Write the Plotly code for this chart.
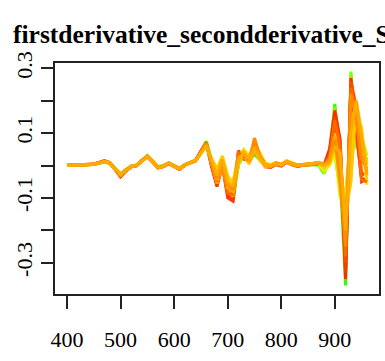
import plotly.graph_objects as go

wavelength = list(range(400, 961, 10))

s_red = [0.000, 0.001, 0.001, 0.002, 0.002, 0.005, 0.009, 0.014, 0.008, -0.013, -0.033, -0.016, -0.003, 0.000, 0.016, 0.028, 0.012, -0.006, -0.002, 0.007, -0.002, -0.011, 0.002, 0.009, 0.016,
         0.045, 0.070, 0.000, -0.060, 0.005, -0.090, -0.100, 0.045, 0.030, 0.020, 0.060, 0.035, 0.000, -0.005, 0.004, 0.000, 0.014, 0.004, -0.002, 0.002, 0.004, 0.005, 0.006, 0.003,
         0.050, 0.170, 0.080, -0.350, 0.270, 0.120, -0.050, -0.040]
s_vermilion = [0.001, 0.001, 0.001, 0.002, 0.003, 0.005, 0.010, 0.015, 0.009, -0.014, -0.035, -0.017, -0.004, -0.001, 0.015, 0.027, 0.011, -0.007, -0.003, 0.006, -0.003, -0.012, 0.001, 0.008, 0.015,
               0.044, 0.068, -0.005, -0.065, 0.000, -0.100, -0.110, 0.035, 0.020, 0.015, 0.050, 0.025, -0.004, -0.006, 0.003, -0.002, 0.010, 0.002, -0.003, 0.001, 0.002, 0.004, 0.004, 0.000,
               0.040, 0.150, 0.070, -0.330, 0.250, 0.100, -0.040, -0.045]
s_redorange = [0.001, 0.001, 0.002, 0.002, 0.003, 0.004, 0.008, 0.012, 0.007, -0.012, -0.030, -0.015, -0.002, 0.001, 0.015, 0.027, 0.011, -0.007, -0.003, 0.006, -0.003, -0.010, 0.001, 0.008, 0.014,
               0.040, 0.065, 0.012, -0.050, 0.015, -0.070, -0.085, 0.030, 0.025, 0.010, 0.045, 0.020, 0.002, -0.003, 0.006, 0.002, 0.010, 0.006, 0.000, 0.001, 0.003, 0.006, 0.008, 0.002,
               0.030, 0.120, -0.020, -0.300, 0.260, 0.180, -0.030, -0.020]
s_orangered = [0.000, 0.001, 0.001, 0.001, 0.002, 0.005, 0.009, 0.013, 0.008, -0.012, -0.031, -0.016, -0.003, 0.000, 0.016, 0.028, 0.012, -0.006, -0.002, 0.007, -0.002, -0.011, 0.002, 0.009, 0.015,
               0.041, 0.067, 0.005, -0.050, 0.008, -0.085, -0.090, 0.040, 0.028, 0.018, 0.065, 0.028, 0.001, -0.004, 0.005, 0.001, 0.012, 0.005, -0.001, 0.002, 0.004, 0.006, 0.007, 0.002,
               0.025, 0.140, 0.060, -0.280, 0.240, 0.160, -0.045, -0.050]
s_orange = [0.000, 0.000, 0.001, 0.001, 0.002, 0.004, 0.007, 0.013, 0.009, -0.010, -0.028, -0.014, -0.003, 0.000, 0.014, 0.029, 0.013, -0.005, -0.001, 0.008, -0.001, -0.009, 0.003, 0.008, 0.015,
            0.042, 0.068, 0.008, -0.040, 0.010, -0.060, -0.075, 0.020, 0.035, 0.015, 0.085, 0.030, 0.004, -0.002, 0.008, 0.003, 0.012, 0.006, 0.001, 0.003, 0.004, 0.007, 0.010, 0.004,
            0.020, 0.080, -0.050, -0.250, 0.220, 0.140, 0.020, -0.010]
s_amber = [0.000, 0.001, 0.001, 0.002, 0.002, 0.004, 0.008, 0.012, 0.008, -0.011, -0.029, -0.015, -0.003, 0.000, 0.015, 0.027, 0.012, -0.006, -0.002, 0.007, -0.002, -0.010, 0.002, 0.008, 0.015,
           0.038, 0.062, 0.015, -0.030, 0.020, -0.050, -0.065, 0.015, 0.040, 0.020, 0.055, 0.025, 0.003, -0.001, 0.007, 0.002, 0.013, 0.005, 0.000, 0.002, 0.005, 0.006, 0.009, 0.001,
           0.010, 0.060, 0.040, -0.200, 0.100, 0.200, 0.080, -0.030]
s_tan = [0.000, 0.001, 0.002, 0.002, 0.003, 0.005, 0.008, 0.013, 0.007, -0.012, -0.031, -0.015, -0.002, 0.001, 0.016, 0.029, 0.012, -0.006, -0.002, 0.007, -0.002, -0.010, 0.002, 0.009, 0.016,
         0.041, 0.066, 0.010, -0.045, 0.012, -0.068, -0.080, 0.025, 0.033, 0.012, 0.058, 0.022, 0.001, -0.003, 0.006, 0.002, 0.012, 0.004, 0.000, 0.002, 0.004, 0.005, 0.008, 0.000,
         0.015, 0.090, 0.000, -0.220, 0.150, 0.170, 0.050, -0.020]
s_gold = [0.000, 0.000, 0.001, 0.001, 0.002, 0.004, 0.007, 0.012, 0.007, -0.011, -0.029, -0.014, -0.002, 0.001, 0.014, 0.027, 0.011, -0.006, -0.002, 0.007, -0.002, -0.010, 0.002, 0.008, 0.014,
          0.040, 0.064, 0.005, -0.055, 0.000, -0.080, -0.095, 0.010, 0.030, 0.005, 0.050, 0.015, -0.003, -0.004, 0.005, 0.001, 0.011, 0.004, -0.001, 0.001, 0.003, 0.005, 0.007, -0.005,
          0.020, 0.100, -0.080, -0.150, -0.050, 0.200, 0.100, 0.000]
s_saffron = [0.000, 0.001, 0.001, 0.002, 0.002, 0.004, 0.008, 0.012, 0.008, -0.010, -0.027, -0.013, -0.002, 0.001, 0.015, 0.028, 0.012, -0.005, -0.001, 0.008, -0.001, -0.009, 0.003, 0.009, 0.015,
             0.037, 0.061, 0.022, -0.010, 0.030, -0.035, -0.050, 0.030, 0.045, 0.028, 0.070, 0.035, 0.006, 0.001, 0.009, 0.004, 0.014, 0.008, 0.002, 0.003, 0.005, 0.007, 0.006, -0.008,
             0.005, 0.070, -0.040, -0.100, 0.120, 0.160, 0.060, -0.050]
s_yellow = [0.000, 0.001, 0.001, 0.002, 0.003, 0.004, 0.008, 0.013, 0.008, -0.011, -0.028, -0.014, -0.002, 0.001, 0.015, 0.028, 0.012, -0.005, -0.001, 0.008, -0.001, -0.009, 0.003, 0.009, 0.015,
            0.036, 0.060, 0.020, -0.020, 0.025, -0.040, -0.055, 0.025, 0.050, 0.030, 0.060, 0.040, 0.008, 0.003, 0.010, 0.005, 0.015, 0.010, 0.003, 0.003, 0.005, 0.006, 0.005, -0.015,
            0.000, 0.040, -0.060, -0.080, 0.050, 0.150, 0.120, -0.060]
s_lime = [0.000, 0.001, 0.001, 0.002, 0.002, 0.004, 0.008, 0.012, 0.007, -0.010, -0.027, -0.013, -0.002, 0.001, 0.016, 0.029, 0.013, -0.005, -0.001, 0.008, -0.001, -0.009, 0.003, 0.009, 0.016,
          0.040, 0.066, 0.018, -0.015, 0.028, -0.030, -0.060, 0.035, 0.045, 0.025, 0.040, 0.030, 0.005, 0.000, 0.008, 0.003, 0.012, 0.007, 0.001, 0.002, 0.004, 0.005, 0.004, -0.020,
          0.010, 0.050, -0.100, -0.120, 0.000, 0.120, 0.090, 0.030]
s_chartreuse = [0.000, 0.001, 0.001, 0.002, 0.002, 0.004, 0.007, 0.012, 0.007, -0.010, -0.027, -0.013, -0.002, 0.001, 0.016, 0.029, 0.013, -0.005, -0.001, 0.008, -0.001, -0.009, 0.003, 0.009, 0.016,
                0.041, 0.068, 0.016, -0.020, 0.024, -0.045, -0.075, 0.028, 0.042, 0.020, 0.042, 0.026, 0.003, -0.001, 0.007, 0.002, 0.011, 0.006, 0.000, 0.002, 0.004, 0.005, 0.003, -0.018,
                0.015, 0.030, -0.070, -0.180, 0.080, 0.140, 0.070, 0.010]
s_lightgreen = [0.000, 0.001, 0.001, 0.002, 0.002, 0.004, 0.007, 0.011, 0.006, -0.011, -0.026, -0.012, -0.001, 0.002, 0.016, 0.030, 0.014, -0.004, 0.000, 0.008, 0.000, -0.008, 0.003, 0.009, 0.016,
                0.043, 0.072, 0.020, -0.025, 0.020, -0.065, -0.110, 0.000, 0.040, 0.010, 0.045, 0.020, 0.000, -0.003, 0.006, 0.002, 0.011, 0.004, 0.000, 0.002, 0.004, 0.004, 0.002, -0.010,
                0.040, 0.180, 0.050, -0.320, 0.290, 0.060, 0.030, 0.010]
s_green = [0.000, 0.001, 0.001, 0.002, 0.002, 0.004, 0.007, 0.011, 0.006, -0.010, -0.025, -0.012, -0.001, 0.002, 0.017, 0.031, 0.014, -0.004, 0.000, 0.008, 0.000, -0.008, 0.003, 0.010, 0.017,
           0.045, 0.075, 0.015, -0.035, 0.015, -0.075, -0.090, 0.005, 0.030, 0.012, 0.035, 0.018, 0.000, -0.004, 0.005, 0.001, 0.010, 0.003, -0.001, 0.001, 0.003, 0.003, 0.001, -0.025,
           0.030, 0.190, -0.030, -0.370, 0.280, 0.080, 0.040, 0.020]

series = [
    (s_green, "#33FF00"),
    (s_lightgreen, "#80FF00"),
    (s_chartreuse, "#A0FF00"),
    (s_lime, "#BBFF00"),
    (s_red, "#FF2A00"),
    (s_vermilion, "#FF3800"),
    (s_redorange, "#FF4800"),
    (s_yellow, "#E6F000"),
    (s_gold, "#FFC800"),
    (s_saffron, "#FFD000"),
    (s_orangered, "#FF6A00"),
    (s_tan, "#FFB000"),
    (s_orange, "#FF8C00"),
    (s_amber, "#FFAA00"),
]

fig = go.Figure()
for vals, col in series:
    fig.add_trace(go.Scatter(x=wavelength, y=vals, mode="lines",
                             line=dict(color=col, width=3), showlegend=False,
                             hoverinfo="skip"))

x_ticks = [400, 500, 600, 700, 800, 900]
y_ticks = [-0.3, -0.2, -0.1, 0.0, 0.1, 0.2, 0.3]
y_labels = ["-0.3", "", "-0.1", "", "0.1", "", "0.3"]

font = "Liberation Serif, Times New Roman, serif"
fig.update_layout(
    width=385, height=361,
    margin=dict(l=55, r=4, t=63, b=67),
    paper_bgcolor="white", plot_bgcolor="white",
    font=dict(family=font, size=22, color="black"),
    xaxis=dict(range=[377.6, 982.4], tickvals=x_ticks, ticktext=[str(v) for v in x_ticks],
               showgrid=False, zeroline=False, showline=True, mirror=True,
               linecolor="#222", linewidth=1.5, ticks="outside", ticklen=13,
               tickwidth=1.5, tickcolor="#222", tickfont=dict(size=22),
               ticklabelstandoff=12),
    yaxis=dict(range=[-0.3964, 0.3164], tickvals=y_ticks, ticktext=y_labels,
               showgrid=False, zeroline=False, showline=True, mirror=True,
               linecolor="#222", linewidth=1.5, ticks="outside", ticklen=12,
               tickwidth=1.5, tickcolor="#222", tickangle=-90, tickfont=dict(size=22)),
    annotations=[dict(text="<b>firstderivative_secondderivative_S</b>",
                      xref="paper", yref="paper", x=(11 - 55) / 326, y=1 + (63 - 51) / 231,
                      xanchor="left", yanchor="bottom", showarrow=False,
                      font=dict(family=font, size=25.5, color="black"))],
)

fig.write_html("out.html")
